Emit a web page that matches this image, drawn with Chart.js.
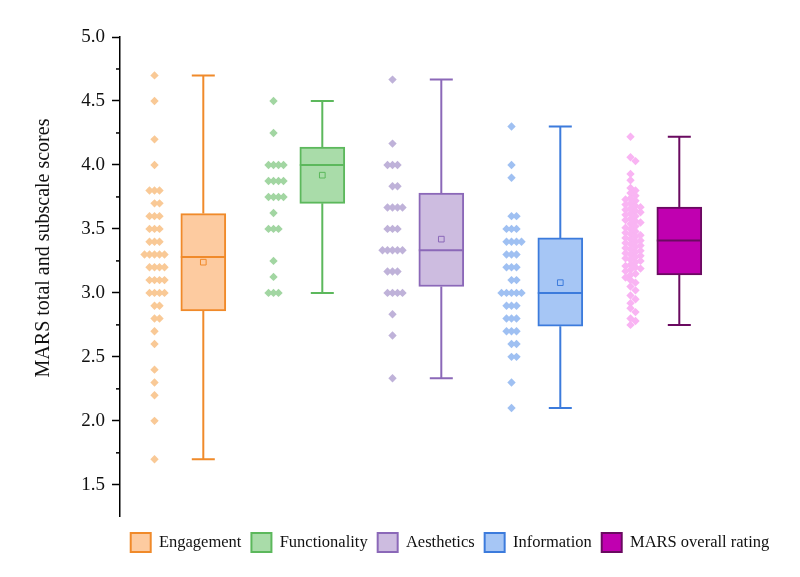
<!DOCTYPE html>
<html><head><meta charset="utf-8">
<script src="https://cdn.jsdelivr.net/npm/chart.js@4.4.0/dist/chart.umd.min.js"></script>
<style>html,body{margin:0;padding:0;background:#fff;}#wrap{width:800px;height:577px;position:relative;}</style>
</head><body><div id="wrap"><canvas id="c" width="800" height="577"></canvas></div>
<script>
// ---------- data ----------
const categories = ['Engagement', 'Functionality', 'Aesthetics', 'Information', 'MARS overall rating'];
const whiskerMin = [1.7, 3.0, 2.333, 2.1, 2.75];
const q1Vals     = [2.86, 3.70, 3.05, 2.74, 3.14];
const medianVals = [3.28, 4.0, 3.333, 3.0, 3.41];
const q3Vals     = [3.62, 4.14, 3.78, 3.43, 3.67];
const whiskerMax = [4.7, 4.5, 4.667, 4.3, 4.22];
const meanVals   = [3.24, 3.92, 3.42, 3.08, null];

const engagementScores = [4.7, 4.5, 4.2, 4.0, 3.8, 3.8, 3.8, 3.7, 3.7, 3.6, 3.6, 3.6, 3.5, 3.5, 3.5,
  3.4, 3.4, 3.4, 3.3, 3.3, 3.3, 3.3, 3.3, 3.2, 3.2, 3.2, 3.2, 3.1, 3.1, 3.1, 3.1, 3.0, 3.0, 3.0, 3.0,
  2.9, 2.9, 2.8, 2.8, 2.7, 2.6, 2.4, 2.3, 2.2, 2.0, 1.7];
const functionalityScores = [4.5, 4.25, 4.0, 4.0, 4.0, 4.0, 3.875, 3.875, 3.875, 3.875, 3.75, 3.75, 3.75, 3.75,
  3.625, 3.5, 3.5, 3.5, 3.25, 3.125, 3.0, 3.0, 3.0];
const aestheticsScores = [4.667, 4.167, 4.0, 4.0, 4.0, 3.833, 3.833, 3.667, 3.667, 3.667, 3.667, 3.5, 3.5, 3.5,
  3.333, 3.333, 3.333, 3.333, 3.333, 3.167, 3.167, 3.167, 3.0, 3.0, 3.0, 3.0, 2.833, 2.667, 2.333];
const informationScores = [4.3, 4.0, 3.9, 3.6, 3.6, 3.5, 3.5, 3.5, 3.4, 3.4, 3.4, 3.4, 3.3, 3.3, 3.3, 3.2, 3.2, 3.2,
  3.1, 3.1, 3.0, 3.0, 3.0, 3.0, 3.0, 2.9, 2.9, 2.9, 2.8, 2.8, 2.8, 2.7, 2.7, 2.7, 2.6, 2.6, 2.5, 2.5, 2.3, 2.1];
const marsScores = [4.22, 4.06, 4.03, 3.93, 3.88, 3.82, 3.80, 3.78, 3.76, 3.74, 3.73, 3.72, 3.70, 3.69, 3.68,
  3.67, 3.66, 3.65, 3.64, 3.63, 3.62, 3.61, 3.60, 3.58, 3.57, 3.56, 3.55, 3.54, 3.52, 3.51, 3.50, 3.48, 3.47,
  3.46, 3.45, 3.44, 3.43, 3.42, 3.41, 3.40, 3.39, 3.38, 3.37, 3.36, 3.35, 3.34, 3.33, 3.32, 3.31, 3.30, 3.29,
  3.28, 3.27, 3.26, 3.25, 3.24, 3.22, 3.21, 3.20, 3.19, 3.18, 3.17, 3.15, 3.14, 3.12, 3.10, 3.08, 3.05, 3.02,
  2.98, 2.95, 2.92, 2.88, 2.85, 2.80, 2.78, 2.75];
const scoreLists = [engagementScores, functionalityScores, aestheticsScores, informationScores, marsScores];

const yTicks = [1.5, 2.0, 2.5, 3.0, 3.5, 4.0, 4.5, 5.0];
const yTitle = 'MARS total and subscale scores';

// ---------- styles ----------
const boxFill   = ['#FDCBA0', '#A9DCA9', '#CDBCE0', '#A6C6F5', '#C000B0'];
const boxBorder = ['#F08A2A', '#5CB85C', '#8B68B8', '#3C7BDC', '#6A0A60'];
const dotColor  = ['#F9C996', '#A2D6A2', '#BFB2D9', '#9FC0F2', '#F9B4F3'];
const BOX_OFF = 0.70, DOT_OFF = 0.29;
const X_PX = 119, Y_PX = 128;           // approx px per data unit (for swarm layout)
const X_MAX = 660 / X_PX;
const BOX_HALF = 22.5 / X_PX, CAP_HALF = 11.5 / X_PX;
const SERIF = "'Liberation Serif', 'Times New Roman', serif";

function swarm(values, center) {
  const STEP = 2.5, MIN_D = 5, placed = [];
  return values.map(v => {
    const py = v * Y_PX;
    for (let k = 0; k < 80; k++) {
      const off = (k % 2 === 1 ? 1 : -1) * Math.ceil(k / 2) * STEP;
      if (placed.every(p => (p.x - off) ** 2 + (p.y - py) ** 2 >= MIN_D * MIN_D)) {
        placed.push({x: off, y: py});
        return {x: center + off / X_PX, y: v};
      }
    }
    return {x: center, y: v};
  });
}

const datasets = [];
categories.forEach((cat, i) => {
  const c = i + BOX_OFF;
  datasets.push({
    type: 'bar', label: cat, data: [{x: c, y: [q1Vals[i], q3Vals[i]]}],
    backgroundColor: boxFill[i], borderColor: boxBorder[i], borderWidth: 2,
    borderSkipped: false, barThickness: 45, grouped: false, order: 3
  });
  datasets.push({
    type: 'line', label: '_w' + i, order: 4,
    data: [
      {x: c, y: whiskerMax[i]}, {x: c, y: q3Vals[i]}, {x: c, y: null},
      {x: c, y: q1Vals[i]}, {x: c, y: whiskerMin[i]}, {x: c, y: null},
      {x: c - CAP_HALF, y: whiskerMax[i]}, {x: c + CAP_HALF, y: whiskerMax[i]}, {x: c, y: null},
      {x: c - CAP_HALF, y: whiskerMin[i]}, {x: c + CAP_HALF, y: whiskerMin[i]}
    ],
    borderColor: boxBorder[i], borderWidth: 2, pointRadius: 0, spanGaps: false, fill: false, tension: 0
  });
  datasets.push({
    type: 'line', label: '_m' + i, order: 1,
    data: [{x: c - BOX_HALF, y: medianVals[i]}, {x: c + BOX_HALF, y: medianVals[i]}],
    borderColor: boxBorder[i], borderWidth: 2, pointRadius: 0, fill: false
  });
  if (meanVals[i] !== null) {
    datasets.push({
      type: 'scatter', label: '_a' + i, order: 0,
      data: [{x: c, y: meanVals[i]}],
      pointStyle: 'rect', pointRadius: 4, backgroundColor: 'rgba(0,0,0,0)',
      borderColor: boxBorder[i], borderWidth: 1
    });
  }
  datasets.push({
    type: 'scatter', label: '_p' + i, order: 2,
    data: swarm(scoreLists[i], i + DOT_OFF),
    pointStyle: 'rectRot', pointRadius: 4.2, backgroundColor: dotColor[i], borderWidth: 0
  });
});

const extras = {
  id: 'extras',
  afterDraw(chart) {
    const ctx = chart.ctx, y = chart.scales.y, left = chart.chartArea.left;
    ctx.save();
    ctx.strokeStyle = '#000'; ctx.lineWidth = 1.5;
    for (let k = 0; k < yTicks.length - 1; k++) {
      const py = y.getPixelForValue((yTicks[k] + yTicks[k + 1]) / 2);
      ctx.beginPath(); ctx.moveTo(left - 4, py); ctx.lineTo(left, py); ctx.stroke();
    }
    ctx.translate(44, 248); ctx.rotate(-Math.PI / 2);
    ctx.fillStyle = '#111'; ctx.font = '20px ' + SERIF;
    ctx.textAlign = 'center'; ctx.textBaseline = 'middle';
    ctx.fillText(yTitle, 0, 0);
    ctx.restore();
  }
};

new Chart(document.getElementById('c'), {
  data: {datasets},
  plugins: [extras],
  options: {
    responsive: false, animation: false,
    layout: {padding: {top: 37, right: 20, bottom: 15, left: 0}},
    plugins: {
      tooltip: {enabled: false},
      legend: {
        position: 'bottom', fullSize: false,
        title: {display: true, text: ' ', font: {size: 1}, padding: {top: 5, bottom: 0}},
        labels: {
          filter: item => !item.text.startsWith('_'),
          boxWidth: 20, boxHeight: 19, padding: 10,
          font: {family: SERIF, size: 16.5}, color: '#111'
        }
      }
    },
    scales: {
      x: {type: 'linear', min: 0, max: X_MAX, display: false, offset: false},
      y: {
        type: 'linear', min: 1.25, max: 5.0,
        afterBuildTicks: s => { s.ticks = yTicks.map(v => ({value: v})); },
        afterFit: s => { s.width = 120; },
        ticks: {font: {family: SERIF, size: 19}, color: '#111', padding: 7,
                callback: v => Number(v).toFixed(1)},
        grid: {drawOnChartArea: false, drawTicks: true, tickLength: 8, tickWidth: 1.5, tickColor: '#000'},
        border: {display: true, color: '#000', width: 1.5}
      }
    }
  }
});
</script></body></html>
